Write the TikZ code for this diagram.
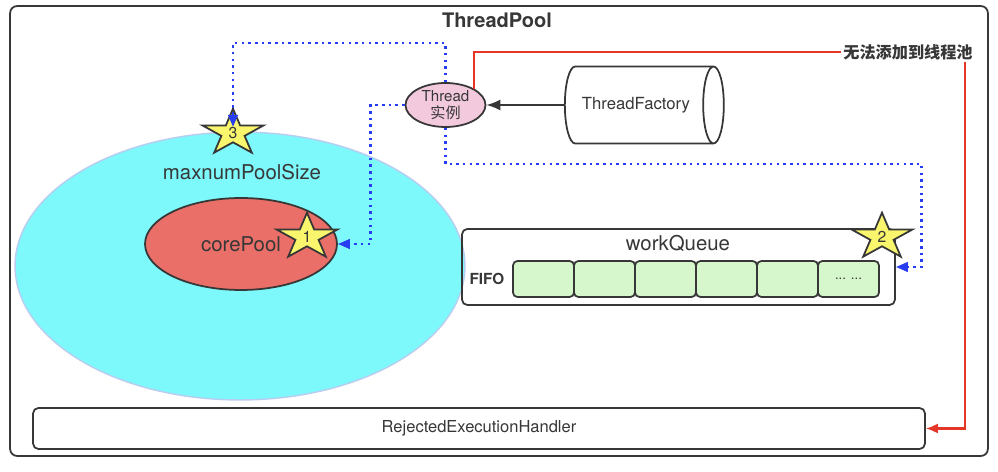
\documentclass[tikz,border=0pt]{standalone}
\usepackage{fontspec}
\setmainfont{TeX Gyre Heros}
\newfontfamily\cjk{Noto Sans CJK SC}
\usetikzlibrary{arrows.meta,calc,positioning,shapes.geometric}

\definecolor{poolcyan}{RGB}{125,248,251}
\definecolor{poolrim}{RGB}{185,205,240}
\definecolor{corered}{RGB}{233,111,104}
\definecolor{starfill}{RGB}{249,245,108}
\definecolor{threadpink}{RGB}{243,201,221}
\definecolor{cellgreen}{RGB}{214,247,204}
\definecolor{flowblue}{RGB}{40,60,240}
\definecolor{rejectred}{RGB}{229,54,42}
\definecolor{inkgray}{RGB}{55,55,55}

\begin{document}
\begin{tikzpicture}[
      x=0.02cm, y=-0.02cm,
      text=inkgray,
      frame/.style={draw=inkgray, line width=1pt, rounded corners=4pt,
        fill=white},
      pooltitle/.style={font=\fontsize{11.4}{13}\selectfont\bfseries},
      poolarea/.style={ellipse, draw=poolrim, line width=0.8pt,
        fill=poolcyan, minimum width=9cm, minimum height=5.36cm},
      corearea/.style={ellipse, draw=inkgray, line width=1pt,
        fill=corered, minimum width=3.84cm, minimum height=1.84cm,
        font=\fontsize{11.6}{13}\selectfont},
      biglabel/.style={font=\fontsize{11.6}{13}\selectfont},
      thread/.style={ellipse, draw=inkgray, line width=1pt,
        fill=threadpink, minimum width=1.6cm, minimum height=0.88cm,
        inner sep=-1pt, align=center,
        font=\fontsize{8.6}{9.6}\selectfont},
      factory/.style={cylinder, draw=inkgray, line width=1pt, aspect=0.75,
        minimum width=1.54cm, minimum height=3.18cm,
        font=\fontsize{9.5}{11}\selectfont},
      queuebox/.style={draw=inkgray, line width=1pt, rounded corners=3pt,
        minimum width=8.66cm, minimum height=1.52cm},
      cellbox/.style={draw=inkgray, line width=1pt, rounded corners=2.5pt,
        fill=cellgreen, minimum width=1.22cm, minimum height=0.72cm,
        font=\fontsize{7.5}{8}\selectfont},
      handler/.style={draw=inkgray, line width=1pt, rounded corners=3pt,
        minimum width=17.84cm, minimum height=0.82cm,
        font=\fontsize{9.4}{11}\selectfont},
      starline/.style={draw=inkgray, line width=1pt, fill=starfill,
        line join=miter},
      starnum/.style={inner sep=0pt, font=\fontsize{9}{10}\selectfont},
      flow/.style={draw=flowblue, line width=1.4pt,
        dash pattern=on 1.4pt off 2.4pt,
        -{Triangle[length=2.4mm, width=1.9mm, fill=flowblue]}},
      make/.style={draw=inkgray, line width=1pt,
        -{Latex[length=2.8mm, width=2.2mm]}},
      reject/.style={draw=rejectred, line width=1.2pt,
        -{Latex[length=2.4mm, width=2mm]}}
    ]
    \useasboundingbox (0,0) rectangle (998,472);

    % thread pool frame
    \node[frame, minimum width=19.56cm, minimum height=9cm] (pool) at (499,231) {};
    \node[pooltitle] (title) at (497,20) {ThreadPool};

    % pool sizes
    \node[poolarea] (maxpool) at (240,266) {};
    \node[biglabel] (maxlabel) at (242,172) {maxnumPoolSize};
    \node[corearea] (core) at (241,244) {corePool};

    % work queue
    \node[queuebox] (queue) at (678.5,267) {};
    \node[biglabel] (queuelabel) at (678,243) {workQueue};
    \foreach \i/\t in {0/,1/,2/,3/,4/,5/{... ...}}
      \node[cellbox] (cell\i) at (543.5+61*\i,279) {\t};
    \node[font=\fontsize{8.7}{10}\selectfont\bfseries, left=1pt of cell0] (fifo) {FIFO};

    % rejection handler
    \node[handler] (reh) at (479,428.5) {RejectedExecutionHandler};

    % thread creation
    \node[thread] (thr) at (445.5,105) {Thread\\{\cjk 实例}};
    \node[factory] (fac) at (636,105) {ThreadFactory};
    \node[font=\cjk\fontsize{9.2}{11}\selectfont\bfseries, inner sep=1pt] (full) at (908,52) {无法添加到线程池};

    % numbered steps
    \foreach \n/\p in {1/{307,237},2/{882,237},3/{233,133}}{
      \draw[starline, shift={(\p)}] (270:32 and 24.3)
        \foreach \a in {306,378,...,594}{ -- (\a:12.2 and 9.3) -- (\a+36:32 and 24.3)} -- cycle;
      \node[starnum] (st\n) at (\p) {\n};
    }

    \draw[make] (fac.west) -- (thr.east);
    \draw[flow] (thr.north) -- ++(0,-39) -| (st3.north);
    \draw[flow] (thr.west) -- ++(-34,0) |- (core.east);
    \draw[flow] (thr.south) -- ++(0,36) -- ++(476,0) |- (queue.east);
    \draw[reject, -] (thr.north east) |- (full.west);
    \draw[reject] ([xshift=-0.2cm]full.south east) |- (reh.east);
  \end{tikzpicture}
\end{document}
